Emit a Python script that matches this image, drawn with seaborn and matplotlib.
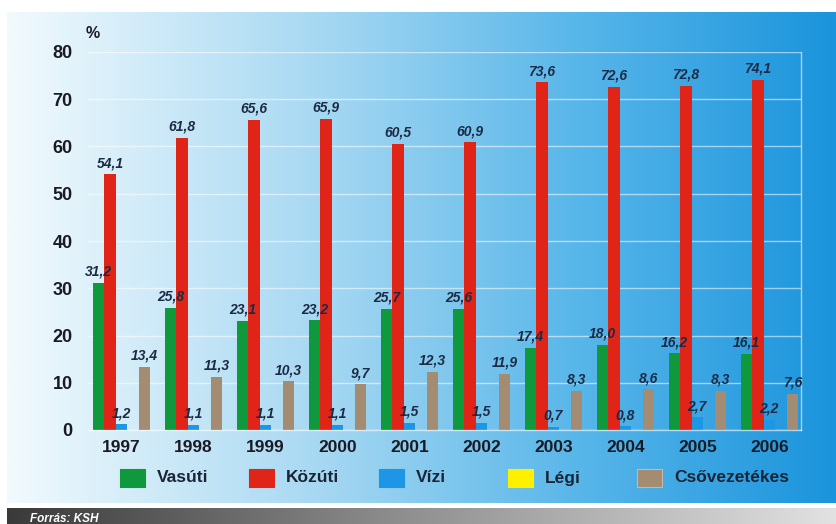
import numpy as np
import pandas as pd
import matplotlib
matplotlib.use("Agg")
import matplotlib.pyplot as plt
from matplotlib.colors import LinearSegmentedColormap
from matplotlib.patches import Rectangle
import seaborn as sns

# Share of freight transport by mode, percent
years = ["1997", "1998", "1999", "2000", "2001", "2002", "2003", "2004", "2005", "2006"]
modes = ["Vasúti", "Közúti", "Vízi", "Légi", "Csővezetékes"]
vasuti = [31.2, 25.8, 23.1, 23.2, 25.7, 25.6, 17.4, 18.0, 16.2, 16.1]
kozuti = [54.1, 61.8, 65.6, 65.9, 60.5, 60.9, 73.6, 72.6, 72.8, 74.1]
vizi = [1.2, 1.1, 1.1, 1.1, 1.5, 1.5, 0.7, 0.8, 2.7, 2.2]
legi = [0.0, 0.0, 0.0, 0.0, 0.0, 0.0, 0.0, 0.0, 0.0, 0.0]
csovezetekes = [13.4, 11.3, 10.3, 9.7, 12.3, 11.9, 8.3, 8.6, 8.3, 7.6]
yticks = [0, 10, 20, 30, 40, 50, 60, 70, 80]

colors = ["#10983c", "#e02418", "#1e96e6", "#fff000", "#a38c72"]

series = [vasuti, kozuti, vizi, legi, csovezetekes]
df = pd.DataFrame({
    "year": np.repeat([years], len(modes), axis=0).ravel(),
    "mode": np.repeat(modes, len(years)),
    "value": np.concatenate(series),
})

sns.set_theme(style="white")
plt.rcParams["font.family"] = ["Liberation Sans", "DejaVu Sans"]

W, H = 837, 524
fig = plt.figure(figsize=(W / 100, H / 100), dpi=100)
fig.patch.set_facecolor("white")

# Background panel with a horizontal white-to-blue gradient, and a grey footer strip
bg = fig.add_axes([0, 0, 1, 1], zorder=0)
bg.set_xlim(0, W)
bg.set_ylim(H, 0)
bg.axis("off")
panel_cmap = LinearSegmentedColormap.from_list(
    "panel",
    [(0.0, "#f2fafd"), (0.38, "#a6d8f2"), (0.69, "#58b6e9"), (1.0, "#1a94dc")],
)
grad = np.linspace(0, 1, 512)[None, :]
bg.imshow(grad, cmap=panel_cmap, aspect="auto", extent=[7, W, 503, 12])
foot_cmap = LinearSegmentedColormap.from_list(
    "foot", [(0.0, "#3a3a3a"), (0.45, "#8a8a8a"), (1.0, "#e2e2e2")]
)
bg.imshow(grad, cmap=foot_cmap, aspect="auto", extent=[7, W, H, 508])
bg.text(30, 519, "Forrás: KSH", color="white", fontsize=8.5, fontweight="bold",
        fontstyle="italic", va="center", ha="left")

# Main bar chart
ax = fig.add_axes([88 / W, 94 / H, (801 - 88) / W, (430 - 52) / H], zorder=2)
ax.set_facecolor("none")
sns.barplot(data=df, x="year", y="value", hue="mode", hue_order=modes,
            palette=colors, width=0.8, saturation=1, dodge=True,
            legend=False, ax=ax, errorbar=None, linewidth=0)

ax.set_ylim(0, 80)
ax.set_xlim(-0.465, 9.44)
ax.set_yticks(yticks)
ax.set_yticklabels([str(t) for t in yticks], fontsize=13, fontweight="bold", color="#1a1a24")
ax.set_xticks(range(len(years)))
ax.set_xticklabels(years, fontsize=12.5, fontweight="bold", color="#1a1a24")
ax.tick_params(axis="y", length=0, pad=11)
ax.tick_params(axis="x", length=0, pad=7)
ax.set_xlabel("")
ax.set_ylabel("")

ax.yaxis.grid(True, color="white", alpha=0.55, linewidth=1)
ax.set_axisbelow(True)
for side in ["left", "top"]:
    ax.spines[side].set_visible(False)
for side in ["right", "bottom"]:
    ax.spines[side].set_color("white")
    ax.spines[side].set_alpha(0.6)
    ax.spines[side].set_linewidth(1)

# Value labels above bars (Hungarian decimal comma), none for empty air-freight bars
for container, vals in zip(ax.containers, series):
    labels = ["" if v == 0 else f"{v:.1f}".replace(".", ",") for v in vals]
    ax.bar_label(container, labels=labels, padding=3, fontsize=10,
                 fontweight="bold", fontstyle="italic", color="#1c2b45")

fig.text(93 / W, 1 - 33 / H, "%", fontsize=11.5, fontweight="bold", color="#1a1a24",
         ha="center", va="center")

# Legend row with evenly spaced swatches
for i, (name, col) in enumerate(zip(modes, colors)):
    x0 = 120 + i * 129.3
    bg.add_patch(Rectangle((x0, 469), 25, 18, facecolor=col,
                           edgecolor="#c8b8a8" if i == 4 else col, linewidth=0.8))
    bg.text(x0 + 37, 478, name, fontsize=12.5, fontweight="bold", color="#1a2436",
            ha="left", va="center")

fig.savefig("out.png", dpi=100)
